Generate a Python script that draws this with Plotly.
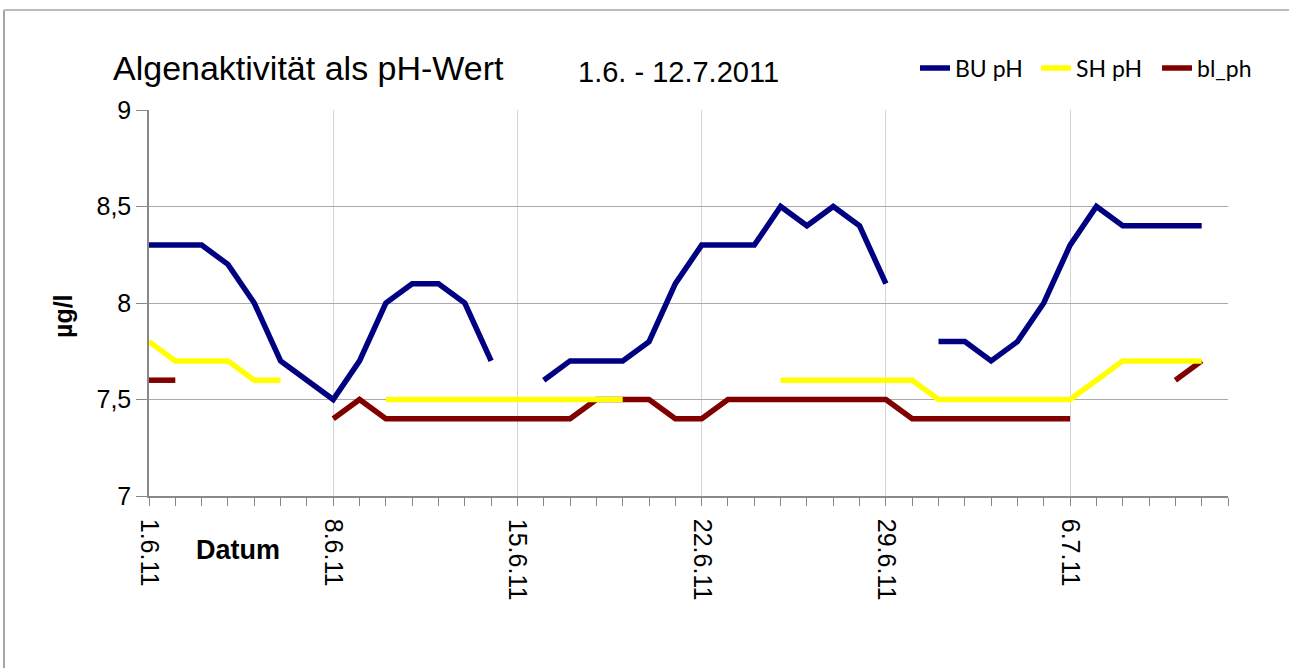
import pandas as pd
import plotly.graph_objects as go

dates = pd.date_range("2011-06-01", "2011-07-11", freq="D")

bu_ph = [8.3, 8.3, 8.3, 8.2, 8.0, 7.7, 7.6, 7.5, 7.7, 8.0, 8.1, 8.1, 8.0, 7.7, None,
         7.6, 7.7, 7.7, 7.7, 7.8, 8.1, 8.3, 8.3, 8.3, 8.5, 8.4, 8.5, 8.4, 8.1, None,
         7.8, 7.8, 7.7, 7.8, 8.0, 8.3, 8.5, 8.4, 8.4, 8.4, 8.4]

sh_ph = [7.8, 7.7, 7.7, 7.7, 7.6, 7.6, None, None, None,
         7.5, 7.5, 7.5, 7.5, 7.5, 7.5, 7.5, 7.5, 7.5, 7.5,
         None, None, None, None, None,
         7.6, 7.6, 7.6, 7.6, 7.6, 7.6,
         7.5, 7.5, 7.5, 7.5, 7.5, 7.5,
         7.6, 7.7, 7.7, 7.7, 7.7]

bl_ph = [7.6, 7.6, None, None, None, None, None,
         7.4, 7.5, 7.4, 7.4, 7.4, 7.4, 7.4, 7.4, 7.4, 7.4,
         7.5, 7.5, 7.5, 7.4, 7.4,
         7.5, 7.5, 7.5, 7.5, 7.5, 7.5, 7.5,
         7.4, 7.4, 7.4, 7.4, 7.4, 7.4, 7.4,
         None, None, None, 7.6, 7.7]

y_ticks = [7, 7.5, 8, 8.5, 9]

fig = go.Figure()
fig.add_trace(go.Scatter(x=dates, y=bu_ph, mode="lines", name="BU pH",
                         line=dict(color="#000080", width=5.5), legendrank=1))
fig.add_trace(go.Scatter(x=dates, y=bl_ph, mode="lines", name="bl_ph",
                         line=dict(color="#800000", width=5.5), legendrank=3))
fig.add_trace(go.Scatter(x=dates, y=sh_ph, mode="lines", name="SH pH",
                         line=dict(color="#FFFF00", width=5.5), legendrank=2))

L, R, T, B = 149, 61, 110, 172
W, H = 1289, 668
pw, ph = W - L - R, H - T - B

def px(x):
    return (x - L) / pw

def py(y):
    return (H - B - y) / ph

fig.update_layout(
    width=W, height=H,
    margin=dict(l=L, r=R, t=T, b=B, pad=0, autoexpand=False),
    paper_bgcolor="white", plot_bgcolor="white",
    separators=",.",
    font=dict(family="Liberation Sans, Arial", color="black"),
    showlegend=True,
    legend=dict(orientation="h", x=px(915), xanchor="left", y=py(68), yanchor="middle",
                font=dict(family="Lato, Carlito, sans-serif", size=23),
                entrywidth=76, entrywidthmode="pixels", itemwidth=30,
                bgcolor="rgba(0,0,0,0)", traceorder="normal"),
    xaxis=dict(
        type="date",
        range=["2011-06-01", "2011-07-12"],
        tick0="2011-06-01", dtick=7 * 86400000,
        tickformat="%-d.%-m.%y", tickangle=90,
        tickfont=dict(size=25),
        ticks="outside", ticklen=8, tickcolor="#888888",
        ticklabelstandoff=8,
        showgrid=True, gridcolor="#d4d4d4", gridwidth=1,
        showline=True, linecolor="#888888", linewidth=1.5,
        minor=dict(dtick=86400000, tick0="2011-06-01", ticks="outside", ticklen=8,
                   tickcolor="#888888", showgrid=False),
        zeroline=False, fixedrange=True,
    ),
    yaxis=dict(
        range=[7, 9], tickvals=y_ticks,
        tickfont=dict(size=25),
        ticks="outside", ticklen=11, tickcolor="#888888",
        showgrid=True, gridcolor="#aaaaaa", gridwidth=1,
        showline=True, linecolor="#888888", linewidth=1.5,
        zeroline=False, fixedrange=True,
    ),
    annotations=[
        dict(text="Algenaktivität als pH-Wert", xref="paper", yref="paper",
             x=px(111), y=py(68), xanchor="left", yanchor="middle", showarrow=False,
             font=dict(size=34, family="Liberation Sans, Arial")),
        dict(text="1.6. - 12.7.2011", xref="paper", yref="paper",
             x=px(678), y=py(72), xanchor="center", yanchor="middle", showarrow=False,
             font=dict(size=29, family="Liberation Sans, Arial")),
        dict(text="<b>Datum</b>", xref="paper", yref="paper",
             x=px(238), y=py(550), xanchor="center", yanchor="middle", showarrow=False,
             font=dict(size=27, family="Liberation Sans, Arial")),
        dict(text="<b>µg/l</b>", xref="paper", yref="paper", textangle=-90,
             x=px(63), y=py(316), xanchor="center", yanchor="middle", showarrow=False,
             font=dict(size=25, family="Liberation Sans, Arial")),
    ],
    shapes=[
        dict(type="line", xref="paper", yref="paper", x0=px(4), x1=px(4), y0=py(700), y1=py(10),
             line=dict(color="#888888", width=1.5)),
        dict(type="line", xref="paper", yref="paper", x0=px(4), x1=px(1300), y0=py(10), y1=py(10),
             line=dict(color="#bbbbbb", width=2)),
    ],
)

fig.write_html("out.html", config={"displayModeBar": False},
               post_script="document.body.style.margin='0';document.body.style.overflow='hidden';")
